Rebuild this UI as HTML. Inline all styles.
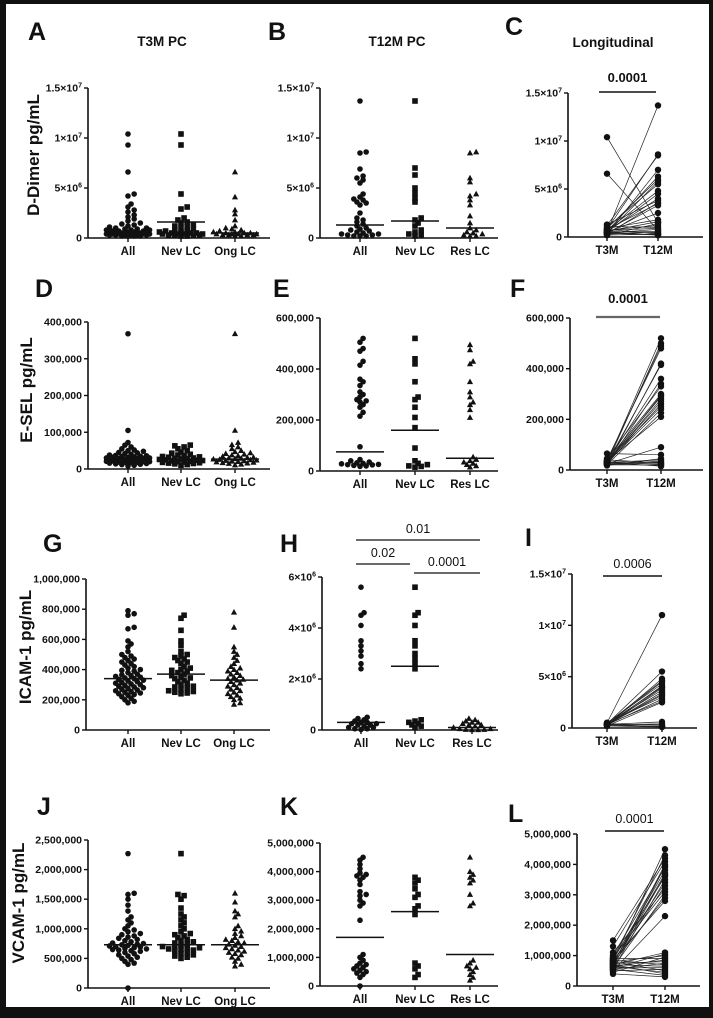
<!DOCTYPE html>
<html><head><meta charset="utf-8">
<style>
html,body{margin:0;padding:0;background:#111;}
#wrap{position:relative;width:713px;height:1018px;background:#111;overflow:hidden;}
svg{position:absolute;left:0;top:0;}
text{font-family:"Liberation Sans",Arial,sans-serif;fill:#111;}
</style></head>
<body>
<div id="wrap">
<svg id="fig" width="713" height="1018" viewBox="0 0 713 1018">
<rect x="6" y="4" width="703" height="1003" fill="#fff"/>
</svg>
</div>
<script>
// ---------- DATA ----------
const groupCats = ["All","Nev LC","Ong LC"];
const groupCats2 = ["All","Nev LC","Res LC"];
const timeCats = ["T3M","T12M"];

// A: D-Dimer T3M (x1e6)
const aAll=[10.4,9.3,6.6,4.4,4.2,3.4,3.1,2.8,2.6,2.3,2.1,1.9,1.7,1.5,1.4,1.3,1.2,1.1,1.0,1.0,0.9,0.9,0.8,0.8,0.8,0.7,0.7,0.7,0.6,0.6,0.6,0.6,0.5,0.5,0.5,0.5,0.5,0.5,0.4,0.4,0.4,0.4,0.4,0.4,0.4,0.3,0.3,0.3,0.3,0.3,0.3,0.2,0.2,0.2,0.2];
const aNev=[10.4,9.3,4.4,3.1,2.9,2.0,1.8,1.6,1.5,1.3,1.2,1.1,1.0,0.9,0.8,0.7,0.7,0.6,0.6,0.5,0.5,0.5,0.4,0.4,0.4,0.4,0.3,0.3,0.3,0.3,0.2,0.2];
const aOng=[6.6,4.1,2.8,2.4,1.8,1.2,1.0,0.9,0.8,0.7,0.6,0.6,0.5,0.5,0.5,0.4,0.4,0.4,0.4,0.3,0.3,0.3,0.3,0.2,0.2];
const aMed=[0.45,1.6,0.5];
// B: D-Dimer T12M (x1e6)
const bAll=[13.7,8.6,8.5,6.9,6.2,6.0,5.8,5.5,4.4,4.1,3.9,3.8,3.6,3.5,3.3,2.5,2.0,1.8,1.6,1.4,1.2,1.0,0.9,0.8,0.7,0.6,0.5,0.4,0.4,0.3,0.3,0.2,0.2,0.2];
const bNev=[13.7,7.0,6.3,5.0,4.5,4.0,3.6,2.0,1.8,1.5,1.2,0.8,0.6,0.4,0.3,0.2];
const bRes=[8.6,8.5,6.0,5.6,4.4,4.2,3.8,3.3,2.2,1.5,1.0,0.8,0.6,0.5,0.4,0.3,0.2,0.2];
const bMed=[1.3,1.7,1.0];
// C: D-Dimer longitudinal (x1e6)
const cT3=[0.5,0.8,1.2,0.3,0.6,0.9,0.4,1.0,0.7,0.5,0.6,1.3,0.3,0.8,0.4,0.5,0.9,0.6,0.2,0.7,1.1,0.4,0.5,0.3,0.6,10.4,6.6,0.8,0.4,0.2,0.5,0.7];
const cT12=[13.7,8.6,8.5,7.0,6.3,6.0,5.8,5.5,4.8,4.5,4.0,3.8,3.6,3.5,3.3,2.5,1.8,1.6,1.4,1.2,1.0,0.8,0.6,0.5,0.4,1.5,0.7,0.3,0.2,0.3,0.2,0.9];
// D: E-SEL T3M (x1000)
const dAll=[368,105,72,65,60,55,52,50,48,45,44,42,40,38,37,36,35,34,33,32,31,30,30,29,28,28,27,26,26,25,25,24,23,23,22,22,21,20,20,19,18,18,17,16,15,14,13,12,10,8];
const dNev=[65,63,60,55,50,46,43,40,38,36,34,33,32,30,29,28,27,26,25,24,23,22,21,20,19,18,17,16,15,14,12,10];
const dOng=[368,105,72,66,60,55,50,47,44,42,40,38,36,34,32,31,30,29,28,27,26,25,24,23,22,21,20,19,18,17,16,15,13,11];
const dMed=[27,27,27];
// E: E-SEL T12M (x1000)
const eAll=[520,505,480,470,430,415,360,350,335,310,300,290,280,275,270,260,250,230,215,95,45,40,35,32,30,28,26,25,24,22,20,18];
const eNev=[520,440,420,350,290,280,250,210,170,90,40,30,25,20,18,15];
const eRes=[495,475,430,420,350,310,290,270,260,240,210,55,45,40,35,30,25,20,15];
const eMed=[75,160,50];
// F: E-SEL longitudinal (x1000)
const fT3=[30,25,35,40,20,28,32,22,45,38,27,33,26,30,24,36,29,21,35,25,65,18,30,22,28,40,26,32,20,24,30];
const fT12=[520,500,490,480,420,415,360,340,330,300,295,290,280,270,260,250,240,225,210,90,60,45,40,35,30,28,25,22,20,18,15];
// G: ICAM-1 T3M (x1000)
const gAll=[790,770,760,680,670,590,570,550,520,500,490,480,470,460,450,440,430,420,410,400,395,390,380,370,365,360,355,350,345,340,335,330,325,320,315,310,305,300,295,290,285,280,275,270,265,260,255,250,245,240,235,230,220,210,200,190,180];
const gNev=[760,740,660,590,560,520,500,490,480,470,460,450,440,420,410,400,395,390,380,370,360,350,345,340,330,320,310,300,290,285,280,270,260,255,250,245,240];
const gOng=[780,680,550,520,500,480,460,440,420,410,400,390,380,370,360,350,340,335,330,320,310,300,290,280,270,260,250,240,230,220,210,200,180,170];
const gMed=[340,370,330];
// H: ICAM-1 T12M (x1e6)
const hAll=[5.6,4.6,4.5,4.1,3.5,3.3,3.1,2.9,2.6,2.4,0.5,0.45,0.4,0.35,0.3,0.3,0.25,0.25,0.2,0.2,0.15,0.1,0.1,0.05,0.05,0.02];
const hNev=[5.6,4.5,4.6,4.1,3.5,3.3,3.0,2.8,2.6,2.4,0.4,0.35,0.3,0.25,0.2,0.15,0.1];
const hRes=[0.45,0.4,0.35,0.3,0.3,0.25,0.2,0.2,0.15,0.1,0.05,0.05,0.02,0.02,0.01,0.01];
const hMed=[0.3,2.5,0.1];
// I: ICAM-1 longitudinal (x1e6)
const iT3=[0.5,0.4,0.3,0.45,0.35,0.5,0.3,0.4,0.25,0.45,0.3,0.4,0.35,0.5,0.3,0.4,0.2,0.35,0.3,0.4,0.25,0.3,0.35,0.2];
const iT12=[11.0,5.5,4.8,4.6,4.5,4.3,4.1,4.0,3.9,3.7,3.5,3.3,3.2,3.0,2.8,2.6,2.5,0.6,0.4,0.3,0.2,0.15,0.1,0.1];
// J: VCAM-1 T3M (x1000)
const jAll=[2270,1600,1580,1500,1400,1300,1200,1150,1100,1050,1000,980,950,920,900,880,860,840,820,800,780,760,750,740,730,720,710,700,690,680,670,660,650,640,630,620,600,580,560,540,520,500,480,450,420,400,0];
const jNev=[2270,1580,1560,1500,1350,1250,1200,1150,1100,1050,1000,950,920,900,880,850,820,800,780,760,740,720,700,690,680,670,660,650,640,620,600,580,560,540,520,500];
const jOng=[1600,1450,1300,1250,1200,1050,1000,960,920,880,850,820,800,780,760,740,720,700,680,660,640,620,600,580,560,520,500,450,400,370];
const jMed=[730,730,730];
// K: VCAM-1 T12M (x1000)
const kAll=[4500,4400,4250,4100,3950,3900,3850,3800,3700,3550,3300,3200,3150,3000,2900,2800,2300,1100,1000,900,800,750,700,650,600,550,500,450,400,300,0];
const kNev=[3800,3700,3600,3400,3200,3100,2800,2700,2500,800,700,600,400,300];
const kRes=[4500,4000,3900,3800,3700,3600,3200,2900,2800,900,800,700,650,600,500,400,300,200];
const kMed=[1700,2600,1100];
// L: VCAM-1 longitudinal (x1000)
const lT3=[800,900,1500,1300,700,600,1000,850,750,650,900,550,800,700,1100,950,600,750,850,500,700,600,800,450,900,650,750,550,850,700,600,500,800,650,700,550,400];
const lT12=[4500,4300,4200,4100,4000,3950,3900,3800,3700,3650,3600,3500,3400,3300,3200,3100,3000,2900,2800,2300,1100,1050,1000,950,900,850,800,750,700,650,600,550,500,450,400,350,300];

// tick values & labels
const sciTicks15=[0,5,10,15];
const sciLabels15=[["0"],["5×10","6"],["1×10","7"],["1.5×10","7"]];
const eselTicksD=[0,100,200,300,400];
const eselLabelsD=["0","100,000","200,000","300,000","400,000"];
const eselTicksE=[0,200,400,600];
const eselLabelsE=["0","200,000","400,000","600,000"];
const icamTicksG=[0,200,400,600,800,1000];
const icamLabelsG=["0","200,000","400,000","600,000","800,000","1,000,000"];
const icamTicksH=[0,2,4,6];
const icamLabelsH=[["0"],["2×10","6"],["4×10","6"],["6×10","6"]];
const vcamTicksJ=[0,500,1000,1500,2000,2500];
const vcamLabelsJ=["0","500,000","1,000,000","1,500,000","2,000,000","2,500,000"];
const vcamTicksK=[0,1000,2000,3000,4000,5000];
const vcamLabelsK=["0","1,000,000","2,000,000","3,000,000","4,000,000","5,000,000"];

// ---------- DRAWING ----------
const NS="http://www.w3.org/2000/svg";
const svg=document.getElementById('fig');
function mk(tag,attrs,parent){const e=document.createElementNS(NS,tag);for(const k in attrs)e.setAttribute(k,attrs[k]);(parent||svg).appendChild(e);return e;}

function scaleY(p,v){return p.y0-(v/p.max)*(p.y0-p.ytop);}

function drawAxes(p,g){
  const ax=mk('line',{x1:p.ax,y1:p.ytop,x2:p.ax,y2:p.y0,stroke:'#111','stroke-width':1.6},g);
  
  
  const xa=mk('line',{x1:p.ax,y1:p.y0,x2:p.xEnd,y2:p.y0,stroke:'#111','stroke-width':1.6},g);
  
  
  p.ticks.forEach((t,i)=>{
    const y=scaleY(p,t);
    const tl=mk('line',{x1:p.ax-4,y1:y,x2:p.ax,y2:y,stroke:'#111','stroke-width':1.4},g);
    
    
    const lab=p.labels[i];
    const tx=mk('text',{x:p.ax-6,y:y+3.5,'text-anchor':'end','font-size':10.5,'font-weight':'bold'},g);
    
    
    if(Array.isArray(lab)){
      const a=document.createElementNS(NS,'tspan');a.textContent=lab[0];tx.appendChild(a);
      if(lab[1]){const b=document.createElementNS(NS,'tspan');b.setAttribute('font-size','7');b.setAttribute('dy','-4');b.textContent=lab[1];tx.appendChild(b);}
    } else tx.textContent=lab;
  });
  p.cats.forEach((c,i)=>{
    const x=p.cx[i];
    const ct=mk('line',{x1:x,y1:p.y0,x2:x,y2:p.y0+4,stroke:'#111','stroke-width':1.4},g);
    
    
    const t=mk('text',{x:x,y:p.y0+17,'text-anchor':'middle','font-size':11.5,'font-weight':'bold'},g);
    t.textContent=c;
    
    
  });
}

function marker(shape,x,y,r,g){
  let e;
  if(shape==='circle') e=mk('circle',{cx:x,cy:y,r:r,fill:'#111'},g);
  else if(shape==='square') e=mk('rect',{x:x-r,y:y-r,width:2*r,height:2*r,fill:'#111'},g);
  else e=mk('polygon',{points:`${x},${y-r*1.15} ${x-r*1.1},${y+r*0.85} ${x+r*1.1},${y+r*0.85}`,fill:'#111'},g);
  return e;
}

function swarm(ys,r,maxW){
  const placed=[];const out=[];
  const order=ys.map((y,i)=>i).sort((a,b)=>ys[b]-ys[a]);
  const step=r*1.1;
  order.forEach(i=>{
    const y=ys[i];let best=null,bestD=-1;
    const cands=[0];for(let k=1;k*step<=maxW;k++){cands.push(k*step,-k*step);}
    for(const dx of cands){
      let minD=1e9;
      for(const q of placed){const d=Math.hypot(q[0]-dx,q[1]-y);if(d<minD)minD=d;}
      if(minD>=2*r*0.7){best=dx;break;}
      if(minD>bestD){bestD=minD;best=dx;}
    }
    placed.push([best,y]);out[i]=best;
  });
  return out;
}

function drawGroupPanel(p,series,meds,name){
  const g=mk('g',{});
  
  
  drawAxes(p,g);
  const shapes=['circle','square','triangle'];
  series.forEach((vals,si)=>{
    const ys=vals.map(v=>scaleY(p,v));
    const dx=swarm(ys,p.r,p.maxW);
    ys.forEach((y,i)=>{
      const m=marker(shapes[si],p.cx[si]+dx[i],y,p.r,g);
      
      
    });
    const my=scaleY(p,meds[si]);
    const ml=mk('line',{x1:p.cx[si]-p.medW,y1:my,x2:p.cx[si]+p.medW,y2:my,stroke:'#111','stroke-width':1.5},g);
    
    
  });
}

function drawPairPanel(p,t3,t12,name){
  const g=mk('g',{});
  
  
  drawAxes(p,g);
  t3.forEach((v,i)=>{
    const l=mk('line',{x1:p.cx[0],y1:scaleY(p,v),x2:p.cx[1],y2:scaleY(p,t12[i]),stroke:'#222','stroke-width':0.7},g);
    
    
  });
  [t3,t12].forEach((arr,k)=>arr.forEach(v=>{
    const c=marker('circle',p.cx[k],scaleY(p,v),3.2,g);
    
    
  }));
}

const base={r:2.8,maxW:24,medW:24};
drawGroupPanel(Object.assign({},base,{ax:88,y0:238,ytop:88,xEnd:270,max:15,ticks:sciTicks15,labels:sciLabels15,cats:groupCats,cx:[128,181,235]}),[aAll,aNev,aOng],aMed,'panel-a');
drawGroupPanel(Object.assign({},base,{ax:320,y0:238,ytop:88,xEnd:498,max:15,ticks:sciTicks15,labels:sciLabels15,cats:groupCats2,cx:[360,415,470]}),[bAll,bNev,bRes],bMed,'panel-b');
drawPairPanel({ax:568,y0:237,ytop:93,xEnd:703,max:15,ticks:sciTicks15,labels:sciLabels15,cats:timeCats,cx:[607,658]},cT3,cT12,'panel-c');
drawGroupPanel(Object.assign({},base,{ax:88,y0:469,ytop:322,xEnd:270,max:400,ticks:eselTicksD,labels:eselLabelsD,cats:groupCats,cx:[128,181,235]}),[dAll,dNev,dOng],dMed,'panel-d');
drawGroupPanel(Object.assign({},base,{ax:320,y0:471,ytop:318,xEnd:498,max:600,ticks:eselTicksE,labels:eselLabelsE,cats:groupCats2,cx:[360,415,470]}),[eAll,eNev,eRes],eMed,'panel-e');
drawPairPanel({ax:570,y0:470,ytop:318,xEnd:703,max:600,ticks:eselTicksE,labels:eselLabelsE,cats:timeCats,cx:[607,661]},fT3,fT12,'panel-f');
drawGroupPanel(Object.assign({},base,{ax:86,y0:730,ytop:579,xEnd:270,max:1000,ticks:icamTicksG,labels:icamLabelsG,cats:groupCats,cx:[128,181,234]}),[gAll,gNev,gOng],gMed,'panel-g');
drawGroupPanel(Object.assign({},base,{ax:322,y0:730,ytop:577,xEnd:498,max:6,ticks:icamTicksH,labels:icamLabelsH,cats:groupCats2,cx:[361,415,472]}),[hAll,hNev,hRes],hMed,'panel-h');
drawPairPanel({ax:572,y0:728,ytop:574,xEnd:697,max:15,ticks:sciTicks15,labels:sciLabels15,cats:timeCats,cx:[607,662]},iT3,iT12,'panel-i');
drawGroupPanel(Object.assign({},base,{ax:88,y0:988,ytop:840,xEnd:270,max:2500,ticks:vcamTicksJ,labels:vcamLabelsJ,cats:groupCats,cx:[128,181,235]}),[jAll,jNev,jOng],jMed,'panel-j');
drawGroupPanel(Object.assign({},base,{ax:320,y0:986,ytop:843,xEnd:498,max:5000,ticks:vcamTicksK,labels:vcamLabelsK,cats:groupCats2,cx:[360,415,470]}),[kAll,kNev,kRes],kMed,'panel-k');
drawPairPanel({ax:577,y0:986,ytop:834,xEnd:700,max:5000,ticks:vcamTicksK,labels:vcamLabelsK,cats:timeCats,cx:[613,665]},lT3,lT12,'panel-l');

// letters
[["A",28,40],["B",268,40],["C",505,35],["D",35,297],["E",273,297],["F",510,297],["G",43,552],["H",280,552],["I",525,546],["J",37,815],["K",280,815],["L",508,822]].forEach(l=>{
  const t=mk('text',{x:l[1],y:l[2],'font-size':25,'font-weight':'bold'});
  t.textContent=l[0];
  
  
});
// column titles
[["T3M PC",162,46],["T12M PC",397,46],["Longitudinal",613,47]].forEach(c=>{
  const t=mk('text',{x:c[1],y:c[2],'text-anchor':'middle','font-size':13.5,'font-weight':'bold'});
  t.textContent=c[0];
  
  
});
// y titles
[["D-Dimer pg/mL",39,155],["E-SEL pg/mL",32,390],["ICAM-1 pg/mL",31,647],["VCAM-1 pg/mL",24,903]].forEach(c=>{
  const t=mk('text',{x:c[1],y:c[2],'text-anchor':'middle','font-size':17,'font-weight':'bold',transform:`rotate(-90 ${c[1]} ${c[2]})`});
  t.textContent=c[0];
  
  
});
// significance annotations
[["0.0001",599,656,92,82,true,'#111',1.4],["0.0001",596,660,317,303,true,'#666',2.2],["0.01",356,480,540,533,false,'#111',1.2],["0.02",356,410,564,557,false,'#111',1.2],["0.0001",414,480,573,566,false,'#111',1.2],["0.0006",603,662,576,568,false,'#111',1.4],["0.0001",605,664,831,823,false,'#111',1.4]].forEach(s=>{
  const l=mk('line',{x1:s[1],y1:s[3],x2:s[2],y2:s[3],stroke:s[6],'stroke-width':s[7]});
  
  
  const t=mk('text',{x:(s[1]+s[2])/2,y:s[4],'text-anchor':'middle','font-size':s[5]?13:12.5,'font-weight':s[5]?'bold':'normal'});
  t.textContent=s[0];
  
  
});
</script>
</body></html>
